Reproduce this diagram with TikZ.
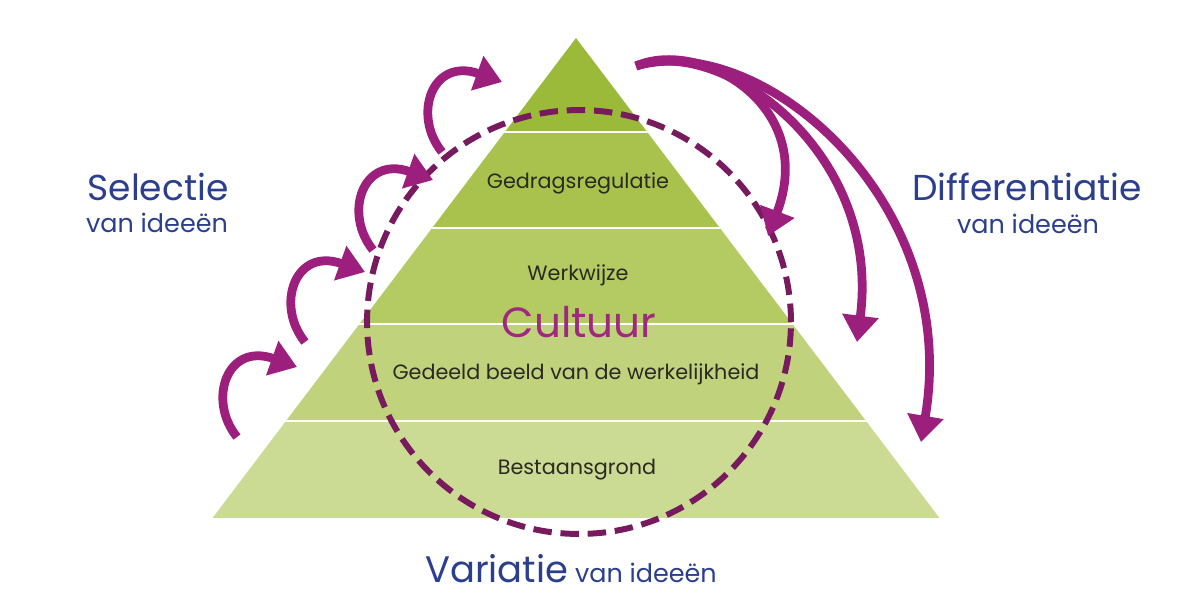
\documentclass[tikz,border=0pt]{standalone}
\usepackage{fontspec}
\setmainfont{Poppins}
\usetikzlibrary{arrows.meta}
\definecolor{bandA}{HTML}{9CBA3A}
\definecolor{bandB}{HTML}{A9C24D}
\definecolor{bandC}{HTML}{B4CA62}
\definecolor{bandD}{HTML}{C0D27B}
\definecolor{bandE}{HTML}{CBDB93}
\definecolor{arrowpurple}{HTML}{9C1F7E}
\definecolor{arrowedge}{HTML}{7A1762}
\definecolor{circlepurple}{HTML}{781A5E}
\definecolor{cultpurple}{HTML}{A0287F}
\definecolor{titleblue}{HTML}{2B3F8E}
\definecolor{darktext}{HTML}{2A2A22}
\tikzset{
  bandlabel/.style={text=darktext, font=\fontsize{11.8}{14}\selectfont, inner sep=0pt},
  bigblue/.style={text=titleblue, font=\fontsize{20.5}{24}\selectfont, inner sep=0pt},
  smallblue/.style={text=titleblue, font=\fontsize{14.5}{17}\selectfont, inner sep=0pt},
  curvearrow/.style={draw=arrowpurple, line width=5pt,
    -{Triangle[length=15pt, width=20pt, fill=arrowpurple, color=arrowpurple]}},
  sep/.style={draw=white, line width=1pt}
}
\begin{document}
\begin{tikzpicture}[x=0.02cm, y=-0.02cm]
\useasboundingbox (0,0) rectangle (1200,600);
% pyramid
\coordinate (apex) at (576,38);
\coordinate (bl) at (212.5,518);
\coordinate (br) at (939.5,518);
\begin{scope}
  \clip (apex) -- (br) -- (bl) -- cycle;
  \fill[bandA] (200,30) rectangle (950,132);
  \fill[bandB] (200,132) rectangle (950,228);
  \fill[bandC] (200,228) rectangle (950,324);
  \fill[bandD] (200,324) rectangle (950,421);
  \fill[bandE] (200,421) rectangle (950,518);
  \draw[sep] (200,132) -- (950,132);
  \draw[sep] (200,228) -- (950,228);
  \draw[sep] (200,324) -- (950,324);
  \draw[sep] (200,421) -- (950,421);
\end{scope}
% band labels
\node[bandlabel] (l1) at (578,183) {Gedragsregulatie};
\node[bandlabel] (l2) at (578,275) {Werkwijze};
\node[bandlabel] (l3) at (576,374) {Gedeeld beeld van de werkelijkheid};
\node[bandlabel] (l4) at (577,470) {Bestaansgrond};
% culture circle
\node[circle, draw=circlepurple, line width=3.4pt, dash pattern=on 10.5pt off 5pt,
      minimum size=8.48cm, inner sep=0pt] (circ) at (579,322) {};
\node[text=cultpurple, font=\fontsize{24}{28}\selectfont, inner sep=0pt] (cult) at (579,322) {Cultuur};
% side labels
\node[bigblue] (sel) at (158,187) {Selectie};
\node[smallblue] (selv) at (157,223) {van ideeën};
\node[bigblue] (dif) at (1027,187) {Differentiatie};
\node[smallblue] (difv) at (1028,224) {van ideeën};
\node[inner sep=0pt, anchor=base] (var) at (571,582) {\textcolor{titleblue}{\fontsize{21}{25}\selectfont Variatie}\textcolor{titleblue}{\fontsize{14.5}{17}\selectfont\ van ideeën}};
% left selection arrows
\foreach \tx/\ty [count=\i] in {237/437, 305/342, 373/250, 442/152} {
  \coordinate (lt\i) at (\tx,\ty);
  \coordinate (lh\i) at (\tx+60,\ty-70);
  \draw[curvearrow] (lt\i) .. controls +(-30,-37) and +(-70,-25) .. (lh\i);
}
% right differentiation arrows
\coordinate (rs) at (636,66);
\coordinate (ra) at (768,236);
\coordinate (rb) at (857,342);
\coordinate (rc) at (921,442);
\draw[curvearrow] (rs) .. controls (700,38) and (818,105) .. (ra);
\draw[curvearrow] (rs) .. controls (720,35) and (882,150) .. (rb);
\draw[curvearrow] (rs) .. controls (760,30) and (962,200) .. (rc);
\end{tikzpicture}
\end{document}
